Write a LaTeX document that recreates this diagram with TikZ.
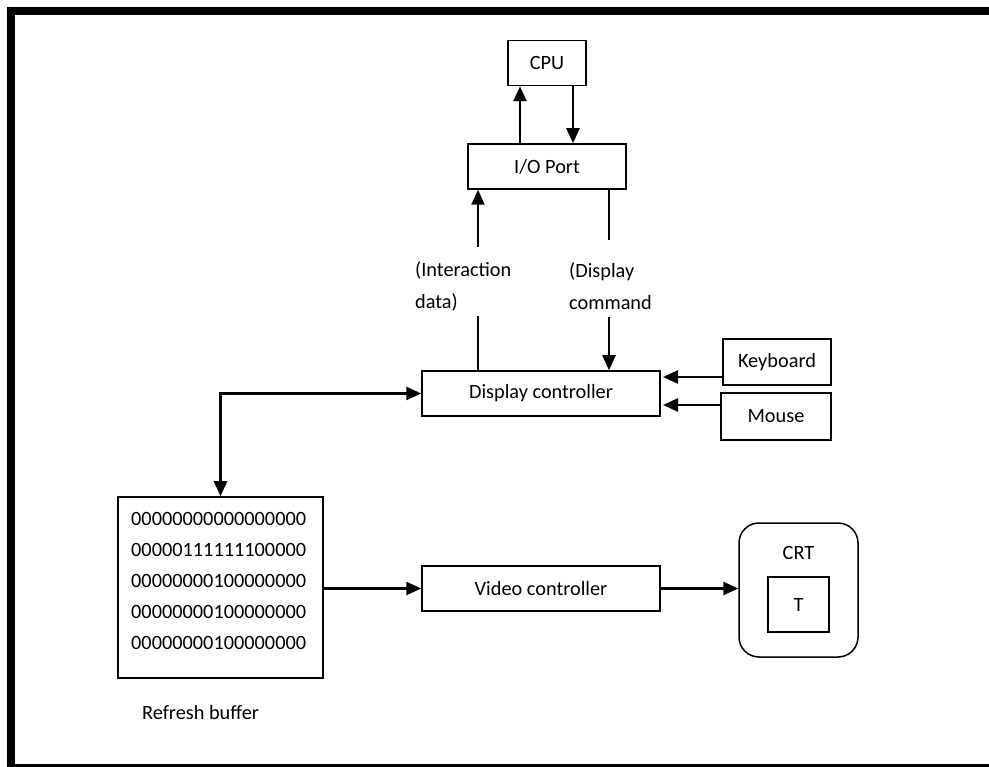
\documentclass[tikz,border=0pt]{standalone}
\usepackage{fontspec}
\setmainfont{Carlito}
\usetikzlibrary{arrows.meta,positioning}
\tikzset{
    blk/.style={draw, line width=1.5pt, inner sep=0pt},
    arr/.style={line width=2.5pt, -{Triangle[length=15pt,width=13pt]}},
    ln/.style={line width=1.8pt}
}
\begin{document}
\begin{tikzpicture}[x=1pt, y=-1pt, font=\fontsize{20.3}{24}\selectfont]
        \useasboundingbox (0,0) rectangle (989,767);
        \begin{scope}
        \clip (0,0) rectangle (989,767);
        \draw[line width=8pt] (989,11) -- (11,11) -- (11,767.5);
        \draw[line width=8pt] (7,767.5) -- (989,767.5);
        \end{scope}

        \node[blk, minimum width=78pt, minimum height=45pt] (cpu) at (547,63) {CPU};
        \node[blk, minimum width=158pt, minimum height=45pt] (io) at (547,166.5) {I/O Port};
        \node[blk, minimum width=238pt, minimum height=45pt] (disp) at (541,393.5) {Display controller};
        \node[blk, minimum width=108pt, minimum height=46pt] (kbd) at (777,362) {Keyboard};
        \node[blk, minimum width=110pt, minimum height=47pt] (mouse) at (776,416.5) {Mouse};
        \node[blk, minimum width=205pt, minimum height=181pt] (buf) at (220.5,587.5) {};
        \node[blk, minimum width=238pt, minimum height=45pt] (video) at (541,588.5) {Video controller};
        \node[blk, rounded corners=20pt, minimum width=119pt, minimum height=134pt] (crt) at (798.5,590) {};
        \node (crtlbl) at (798.5,553) {CRT};
        \node[blk, minimum width=61pt, minimum height=55pt] (scr) at (798.5,604.5) {T};

        \node[anchor=west, align=left, inner sep=0pt, font=\fontsize{20.3}{31}\selectfont] (bits) at (131,580.5)
            {00000000000000000\\00000111111100000\\00000000100000000\\00000000100000000\\00000000100000000};
        \node[anchor=west, inner sep=0pt] (buflbl) at (142,713) {Refresh buffer};

        \node[anchor=west, align=left, inner sep=0pt, font=\fontsize{20.3}{32}\selectfont] (idata) at (415,286) {(Interaction\\data)};
        \node[anchor=west, align=left, inner sep=0pt, font=\fontsize{20.3}{32}\selectfont] (dcmd) at (569,286) {(Display\\command};

        \coordinate (ia) at (478,247);
        \coordinate (ib) at (478,316);
        \coordinate (ca) at (609,240);
        \coordinate (cb) at (609,317);

        \draw[arr] ([xshift=-27pt]io.north) -- ([xshift=-27pt]cpu.south);
        \draw[arr] ([xshift=26pt]cpu.south) -- ([xshift=26pt]io.north);
        \draw[arr] (ia) -- (ia |- io.south);
        \draw[ln] (ib |- disp.north) -- (ib);
        \draw[ln] (ca |- io.south) -- (ca);
        \draw[arr] (cb) -- (cb |- disp.north);
        \draw[arr] (kbd.west |- 0,377) -- (663,377);
        \draw[arr] (mouse.west |- 0,405) -- (663,405);
        \draw[arr, {Triangle[length=15pt,width=13pt]}-{Triangle[length=15pt,width=13pt]}] (buf.north) |- (disp.west);
        \draw[arr] (buf.east |- video.west) -- (video.west);
        \draw[arr] (video.east) -- (crt.west |- video.east);
    \end{tikzpicture}
\end{document}
